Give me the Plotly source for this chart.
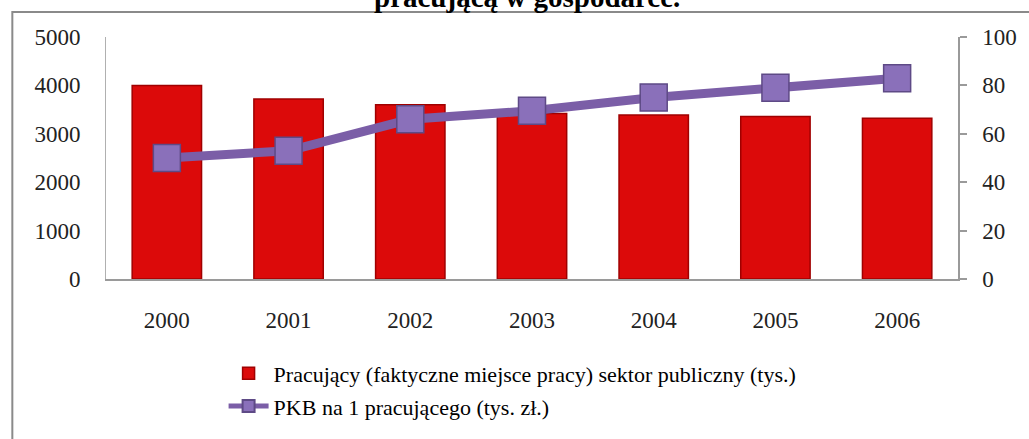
import plotly.graph_objects as go

years = ["2000", "2001", "2002", "2003", "2004", "2005", "2006"]
employed_public = [4000, 3720, 3600, 3420, 3390, 3360, 3320]
gdp_per_worker = [50, 53, 66, 69.5, 75, 79, 83]
left_ticks = [0, 1000, 2000, 3000, 4000, 5000]
right_ticks = [0, 20, 40, 60, 80, 100]

name_bar = "Pracujący (faktyczne miejsce pracy) sektor publiczny (tys.)"
name_line = "PKB na 1 pracującego (tys. zł.)"
title_text = "pracującą w gospodarce."

W, H = 1029, 439
L, R, T, B = 106, 68, 37, 151
PW = W - L - R
PH = H - T - B

def px(x):
    return (x - L) / PW

def py(y):
    return (H - B - y) / PH

FONT = "Liberation Serif"

fig = go.Figure()
fig.add_trace(go.Bar(
    x=years, y=employed_public, name=name_bar,
    marker=dict(color="#DC0A0A", line=dict(color="#A00000", width=1.5)),
    width=0.57, legend="legend",
))
fig.add_trace(go.Scatter(
    x=years, y=gdp_per_worker, name=name_line, yaxis="y2",
    mode="lines+markers",
    line=dict(color="#7B5EA7", width=9),
    marker=dict(symbol="square", size=27, color="#8A70BA",
                line=dict(color="#5E4A86", width=1.5)),
    legend="legend2",
))

fig.update_layout(
    width=W, height=H,
    margin=dict(l=L, r=R, t=T, b=B),
    paper_bgcolor="white", plot_bgcolor="white",
    font=dict(family=FONT, size=22, color="#222"),
    showlegend=True,
    xaxis=dict(
        type="category", showgrid=False, zeroline=False,
        showline=True, linecolor="#9a9a9a", linewidth=1.5,
        ticks="", ticklabelstandoff=20,
        tickfont=dict(family=FONT, size=23, color="#222"),
    ),
    yaxis=dict(
        range=[0, 5000], tickvals=left_ticks, showgrid=False, zeroline=False,
        showline=True, linecolor="#b0b0b0", linewidth=1,
        ticks="", ticklabelstandoff=20,
        tickfont=dict(family=FONT, size=23, color="#222"),
    ),
    yaxis2=dict(
        range=[0, 100], tickvals=right_ticks, overlaying="y", side="right",
        showgrid=False, zeroline=False,
        showline=True, linecolor="#9a9a9a", linewidth=1.5,
        ticks="outside", ticklen=7, tickcolor="#9a9a9a", tickwidth=1.5,
        ticklabelstandoff=11,
        tickfont=dict(family=FONT, size=23, color="#222"),
    ),
    legend=dict(
        x=px(224), y=py(386), xanchor="left", yanchor="middle",
        font=dict(family=FONT, size=22, color="black"),
        bgcolor="rgba(0,0,0,0)", itemwidth=40,
    ),
    legend2=dict(
        x=px(224), y=py(420), xanchor="left", yanchor="middle",
        font=dict(family=FONT, size=22, color="black"),
        bgcolor="rgba(0,0,0,0)", itemwidth=40, itemsizing="constant",
    ),
    shapes=[dict(
        type="rect", xref="paper", yref="paper",
        x0=px(12), x1=px(1045), y0=py(470), y1=py(11),
        line=dict(color="#8a8a8a", width=2), fillcolor="rgba(0,0,0,0)",
        layer="below",
    )],
    annotations=[dict(
        text="<b>" + title_text + "</b>", xref="paper", yref="paper",
        x=px(528), y=py(14), xanchor="center", yanchor="bottom",
        showarrow=False, font=dict(family=FONT, size=29, color="black"),
    )],
)

fig.write_html("out.html", config={"displayModeBar": False},
               post_script="document.body.style.margin='0';")
